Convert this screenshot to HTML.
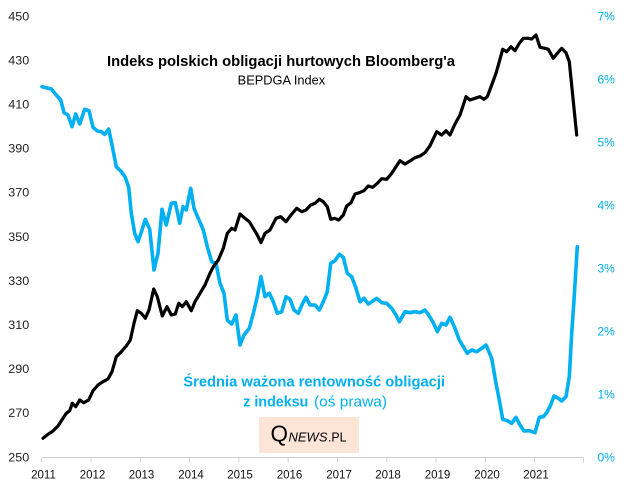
<!DOCTYPE html>
<html>
<head>
<meta charset="utf-8">
<style>
html,body{margin:0;padding:0;background:#fff;}
svg{display:block;}
text{font-family:"Liberation Sans",sans-serif;}
</style>
</head>
<body>
<svg width="624" height="491" viewBox="0 0 624 491" xmlns="http://www.w3.org/2000/svg">
<rect width="624" height="491" fill="#fff"/>

<!-- left axis labels -->
<g font-size="11.5" fill="#222">
<text x="8.3" y="20.3" textLength="21" lengthAdjust="spacingAndGlyphs">450</text>
<text x="8.3" y="64.4" textLength="21" lengthAdjust="spacingAndGlyphs">430</text>
<text x="8.3" y="108.5" textLength="21" lengthAdjust="spacingAndGlyphs">410</text>
<text x="8.3" y="152.6" textLength="21" lengthAdjust="spacingAndGlyphs">390</text>
<text x="8.3" y="196.7" textLength="21" lengthAdjust="spacingAndGlyphs">370</text>
<text x="8.3" y="240.8" textLength="21" lengthAdjust="spacingAndGlyphs">350</text>
<text x="8.3" y="284.9" textLength="21" lengthAdjust="spacingAndGlyphs">330</text>
<text x="8.3" y="329" textLength="21" lengthAdjust="spacingAndGlyphs">310</text>
<text x="8.3" y="373.1" textLength="21" lengthAdjust="spacingAndGlyphs">290</text>
<text x="8.3" y="417.2" textLength="21" lengthAdjust="spacingAndGlyphs">270</text>
<text x="8.3" y="461.3" textLength="21" lengthAdjust="spacingAndGlyphs">250</text>
</g>

<!-- right axis labels -->
<g font-size="12" fill="#00B0F0">
<text x="597.5" y="20.5">7%</text>
<text x="597.5" y="83.5">6%</text>
<text x="597.5" y="146.5">5%</text>
<text x="597.5" y="209.5">4%</text>
<text x="597.5" y="272.5">3%</text>
<text x="597.5" y="335.5">2%</text>
<text x="597.5" y="398.5">1%</text>
<text x="597.5" y="461.5">0%</text>
</g>

<!-- x axis -->
<line x1="41.5" y1="457.5" x2="583.5" y2="457.5" stroke="#D0D0D0" stroke-width="1"/>
<g stroke="#D0D0D0" stroke-width="1">
<line x1="41.7" y1="457.5" x2="41.7" y2="462.5"/>
<line x1="91" y1="457.5" x2="91" y2="462.5"/>
<line x1="140.3" y1="457.5" x2="140.3" y2="462.5"/>
<line x1="189.6" y1="457.5" x2="189.6" y2="462.5"/>
<line x1="238.9" y1="457.5" x2="238.9" y2="462.5"/>
<line x1="288.2" y1="457.5" x2="288.2" y2="462.5"/>
<line x1="337.5" y1="457.5" x2="337.5" y2="462.5"/>
<line x1="386.8" y1="457.5" x2="386.8" y2="462.5"/>
<line x1="436.1" y1="457.5" x2="436.1" y2="462.5"/>
<line x1="485.4" y1="457.5" x2="485.4" y2="462.5"/>
<line x1="534.7" y1="457.5" x2="534.7" y2="462.5"/>
<line x1="583.5" y1="457.5" x2="583.5" y2="462.5"/>
</g>
<g font-size="11.5" fill="#111" text-anchor="middle">
<text x="43.5" y="478.5">2011</text>
<text x="92.5" y="478.5">2012</text>
<text x="141.5" y="478.5">2013</text>
<text x="191" y="478.5">2014</text>
<text x="240" y="478.5">2015</text>
<text x="289.5" y="478.5">2016</text>
<text x="339" y="478.5">2017</text>
<text x="388" y="478.5">2018</text>
<text x="437.5" y="478.5">2019</text>
<text x="487" y="478.5">2020</text>
<text x="536" y="478.5">2021</text>
</g>

<!-- blue series -->
<polyline fill="none" stroke="#00B0F0" stroke-width="3.6" stroke-linejoin="round" stroke-linecap="round" points="42,86.7 51.3,89 56.3,95 60.7,100 64,112.7 68,115 72,126.7 75.7,114 79.7,124 84.7,109.3 89,110.7 93,127.3 97.3,131 101.3,131.7 104.7,134.3 108.7,129 112,145 116.3,166.7 121.3,171.7 125.3,177.3 128.7,187.3 131.3,213.3 134.7,233.3 138,241.7 142,230 145.3,219.3 149.7,229.3 154,270 158,253.3 162,209.3 166.3,225 171.3,203.3 175.3,202.7 179.7,223.3 183,206.7 186.3,210 190.7,188.3 194,208.3 198.3,218.3 203.3,230 207.3,246.7 211.7,261.7 216,263.3 220,283.3 224,293.3 227.3,320 231.7,324 236,315 240,345 244,335 249.3,328.3 253.3,313.3 257.3,296.7 261,276.7 265,296.7 269.3,293.3 273.3,301.7 277.3,313.3 281.7,311.7 286,296.7 290,299.3 294,310 298.3,313.3 302.7,303.3 306,297.3 310,305 315,305 319.3,310 323.3,301.7 327.3,291.7 330.7,263.3 335,260.7 339.3,254.3 343.3,257.3 347.3,273.3 351.7,276.7 356,288.3 360,301.7 364,298.3 368.3,304 373.3,300.7 376.7,298.3 381.7,302.7 386.7,303.3 391.7,308.3 396,315 399.3,321.7 405,311.7 410,312.7 415,311.7 420,312.7 425,310 429.3,316 433.3,322.7 437.3,331.7 441.7,323.3 446,325 450,317.3 455,328.3 459.3,340 463.3,346.7 467.3,353.3 471.7,350 476.7,351.7 481.7,348.3 486,345 491.7,358.3 496,383.3 499.3,400 502.7,419.3 507.3,420.7 511.7,423.3 516,417.3 520,425 524,431 529.3,430.7 535,432.7 539.3,417.3 543.3,416.7 547.3,411.7 550.7,405 554,396 558.3,398.3 561.7,401 566,396.7 569.3,376.7 571.7,333.3 574,300 577.3,246.7"/>

<!-- black series -->
<polyline fill="none" stroke="#000" stroke-width="3.2" stroke-linejoin="round" stroke-linecap="round" points="43,438.3 48,434.3 53,431 58,426 63,418.3 66.3,413.3 69.7,410.7 72.3,403.3 75.7,406.7 79.7,400 83.7,402.7 88.7,400 93,390.7 98,385 103,381.7 108,379 112,371.7 116.3,356.7 121.3,351.7 126.3,346 130.3,340 134,323.3 137.3,310.7 141.3,313.3 145.3,318.3 149,310 153.7,289 157.3,296.7 162.3,316 167,306.7 171.3,315 175.3,314 178.7,303.3 182.3,306.7 186.3,301.7 191.3,310.7 195,301.7 200,293.3 205,285 210,273.3 213.3,266.7 218.3,260 223.3,248.3 227.3,233.3 231.7,228.3 235,230 240,214 245,218.3 249.3,221.7 253.3,228.3 257.3,235 261,242.7 265,233.3 270,230 276,218.3 280.7,216.7 286,221.7 291,215 296.7,208.3 301.7,211.7 306,210 310.7,205 315,203.3 319.3,199.3 323.3,201.7 327.3,206.7 330.7,219.3 334.7,218.3 338.7,220 343.3,215 346.7,206 351,202.7 355,194 359.3,192.7 364,190.7 368.3,186 372.7,187.3 377.3,183.3 381.7,178.7 386.7,179.3 391.7,173.3 396,166.7 400,160.7 405,164 410,161 415,157.7 420,156 425,152.7 430,145.7 436.7,131.7 441.7,135 446,130.7 450,135 455,124 460,115 466,96.7 470,100 475,98.3 480,96.7 484,99.3 487.3,96.7 491.7,85 496,73.3 499.3,61.7 502.7,49.3 506.7,51.7 511,46.7 515,50.7 519.3,43.3 523.3,38.3 528.3,38.3 531.7,39 536,35 540,47.3 545,48.3 548.3,49.3 553.3,58.3 557.3,53.3 561.7,48.3 566,52.7 569.3,61.7 576.7,135"/>

<!-- titles -->
<text x="107" y="66" font-size="15" font-weight="bold" fill="#000" textLength="348" lengthAdjust="spacingAndGlyphs">Indeks polskich  obligacji  hurtowych Bloomberg'a</text>
<text x="237.7" y="84.5" font-size="12.5" fill="#000" textLength="87.5" lengthAdjust="spacingAndGlyphs">BEPDGA Index</text>

<text x="183.3" y="386.7" font-size="15" font-weight="bold" fill="#00B0F0" textLength="261.7" lengthAdjust="spacingAndGlyphs">Średnia ważona rentowność obligacji</text>
<text x="243.3" y="406.7" font-size="15" font-weight="bold" fill="#00B0F0" textLength="65" lengthAdjust="spacingAndGlyphs">z indeksu</text>
<text x="314" y="406.7" font-size="15" fill="#00B0F0" textLength="73" lengthAdjust="spacingAndGlyphs">(oś prawa)</text>

<!-- logo -->
<rect x="259" y="417" width="100" height="36" fill="#FCE4D6"/>
<text x="270.5" y="441.7" font-family="Liberation Serif, serif" font-size="23" fill="#000" textLength="17.5" lengthAdjust="spacingAndGlyphs">Q</text>
<text x="288.5" y="441.7" font-size="12.5" font-style="italic" fill="#000" textLength="39" lengthAdjust="spacingAndGlyphs">NEWS</text>
<text x="328" y="441.7" font-size="12.5" fill="#000" textLength="18.5" lengthAdjust="spacingAndGlyphs">.PL</text>
</svg>
</body>
</html>
